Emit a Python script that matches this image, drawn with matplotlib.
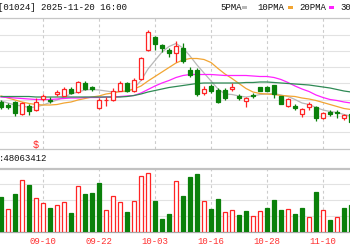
import matplotlib
matplotlib.use("Agg")
import matplotlib.pyplot as plt
from matplotlib.patches import Rectangle
import matplotlib.transforms as mtrans
import numpy as np

# ---------------- data ----------------
axis_dates = ["08-29", "09-01",
              "09-02", "09-03", "09-04", "09-05", "09-08", "09-09", "09-10", "09-11", "09-12", "09-15",
              "09-16", "09-17", "09-18", "09-19", "09-22", "09-23", "09-24", "09-25", "09-26", "09-29",
              "09-30", "10-02", "10-03", "10-06", "10-08", "10-09", "10-10", "10-13", "10-14", "10-15",
              "10-16", "10-17", "10-20", "10-21", "10-22", "10-23", "10-24", "10-27", "10-28", "10-30",
              "10-31", "11-03", "11-04", "11-05", "11-06", "11-07", "11-10", "11-11", "11-12", "11-13",
              "11-14"]
dates = axis_dates[2:]
label_dates = ["08-29", "09-10", "09-22", "10-03", "10-16", "10-28", "11-10"]

opens = [73.6, 72.9, 73.6, 71.2, 72.8, 72.0, 74.3, 74.1, 75.3, 74.9, 76.2, 75.7, 77.4, 76.5, 72.5, 74.0,
         74.0, 75.9, 77.4, 75.8, 78.2, 84.0, 86.7, 85.1, 84.1, 83.4, 84.5, 80.0, 80.0, 75.4, 76.8, 76.0,
         76.0, 76.3, 74.7, 73.8, 75.1, 76.6, 76.7, 77.0, 74.7, 72.9, 72.7, 71.3, 72.6, 72.6, 70.4, 71.6,
         71.7, 70.4, 71.2]
highs = [74.0, 73.4, 73.8, 73.6, 73.2, 74.4, 75.2, 74.6, 76.0, 76.6, 76.6, 77.9, 77.8, 76.9, 74.4, 74.6,
         76.4, 77.8, 77.6, 78.4, 82.6, 88.0, 86.9, 85.2, 84.4, 85.8, 85.4, 80.6, 80.4, 76.8, 77.3, 76.4,
         76.4, 77.4, 75.2, 74.6, 75.5, 76.7, 76.8, 77.1, 74.8, 74.5, 73.2, 72.4, 73.6, 72.8, 71.6, 72.0,
         72.1, 71.2, 71.6]
lows = [72.2, 72.2, 70.8, 71.0, 71.0, 71.8, 73.8, 73.4, 74.8, 74.8, 75.2, 75.5, 76.0, 75.8, 72.2, 72.8,
        73.8, 75.8, 75.6, 75.6, 78.0, 83.8, 84.1, 83.6, 82.6, 81.6, 81.4, 78.6, 74.8, 75.0, 75.5, 73.4,
        74.0, 75.8, 74.0, 72.7, 74.5, 75.8, 75.8, 74.4, 73.2, 72.7, 72.0, 70.6, 72.0, 69.8, 70.2, 70.8,
        70.4, 70.0, 69.2]
closes = [72.6, 72.7, 71.4, 73.4, 71.8, 73.6, 74.7, 73.9, 75.5, 76.2, 75.5, 77.6, 76.3, 76.3, 74.0, 74.1,
          75.8, 77.5, 75.9, 78.1, 82.4, 87.6, 85.3, 84.5, 83.4, 84.8, 81.8, 79.1, 75.2, 76.3, 75.8, 73.6,
          74.4, 76.5, 74.5, 74.4, 74.9, 75.9, 75.9, 75.2, 73.3, 74.2, 72.5, 72.3, 73.3, 70.4, 71.4, 71.3,
          71.4, 71.1, 69.6]

ma5 = [73.8, 73.4, 73.0, 72.8, 72.5, 72.6, 73.0, 73.5, 74.0, 74.6, 75.2, 75.6, 76.0, 76.1, 76.0, 75.8,
       75.6, 75.7, 75.7, 76.3, 77.9, 80.2, 81.9, 83.6, 84.7, 85.3, 84.4, 82.8, 81.0, 79.4, 77.8, 76.2,
       75.2, 75.1, 74.8, 74.6, 74.8, 75.1, 75.2, 75.3, 75.0, 74.7, 74.1, 73.4, 73.1, 72.5, 72.0, 71.7,
       71.5, 71.1, 70.8]
ma10 = [74.8, 74.4, 74.0, 73.6, 73.3, 73.1, 73.0, 73.0, 73.1, 73.4, 73.6, 74.0, 74.3, 74.6, 74.8, 75.2,
        75.4, 75.7, 75.8, 76.2, 76.8, 77.8, 78.7, 79.6, 80.5, 81.4, 82.0, 82.3, 82.3, 82.1, 81.5, 80.3,
        79.2, 78.3, 77.3, 76.3, 75.6, 75.3, 75.2, 75.1, 74.9, 74.8, 74.7, 74.4, 74.2, 73.9, 73.5, 73.1,
        72.7, 72.3, 72.1]
ma20 = [74.6, 74.5, 74.4, 74.3, 74.2, 74.1, 74.1, 74.1, 74.2, 74.3, 74.4, 74.4, 74.5, 74.5, 74.5, 74.6,
        74.6, 74.7, 74.8, 74.9, 75.4, 76.1, 76.8, 77.4, 77.9, 78.5, 78.9, 79.1, 79.1, 79.1, 79.1, 79.0,
        78.9, 78.9, 78.9, 78.9, 78.8, 78.7, 78.7, 78.5, 78.1, 77.5, 76.8, 76.2, 75.7, 75.0, 74.5, 74.1,
        73.9, 73.6, 73.4]
ma30 = [74.7, 74.7, 74.7, 74.7, 74.7, 74.6, 74.6, 74.6, 74.6, 74.6, 74.6, 74.6, 74.6, 74.6, 74.6, 74.6,
        74.6, 74.6, 74.7, 74.9, 75.2, 75.6, 75.9, 76.2, 76.5, 76.7, 76.9, 77.1, 77.3, 77.4, 77.4, 77.4,
        77.4, 77.4, 77.4, 77.5, 77.5, 77.6, 77.6, 77.5, 77.4, 77.3, 77.2, 77.1, 77.0, 76.8, 76.6, 76.4,
        76.1, 75.8, 75.6]

volume = [35.0, 22.7, 37.7, 51.7, 46.7, 33.7, 28.7, 23.7, 26.7, 29.7, 18.7, 45.7, 37.7, 38.7, 48.7, 21.7,
          35.7, 29.7, 19.7, 30.7, 55.7, 58.7, 30.7, 12.7, 17.7, 50.7, 35.7, 54.7, 57.7, 30.7, 22.7, 32.7,
          19.7, 21.7, 16.7, 20.7, 15.7, 20.7, 23.7, 31.7, 21.7, 22.7, 17.7, 23.7, 14.7, 39.7, 21.7, 11.7,
          14.7, 23.7, 26.7]
vol_up = [0, 1, 0, 1, 0, 1, 1, 0, 1, 1, 0, 1, 0, 0, 0, 1, 1, 1, 0, 1, 1, 1, 0, 0, 0, 1, 0, 0, 0, 1,
          0, 0, 1, 1, 0, 0, 1, 1, 0, 0, 0, 1, 0, 0, 1, 0, 1, 0, 1, 0, 0]

dividend_date = "09-09"
title_text = "[01024] 2025-11-20 16:00"
vol_text = ":48063412"
ma_labels = ["5PMA", "10PMA", "20PMA", "30PMA"]

# ---------------- style / layout ----------------
W, H = 350, 250
FONT = "Liberation Mono"
UP = "#ff2424"
DN = "#0a800a"
MA_COLORS = ["#b8b8b8", "#f2a533", "#ff22ff", "#2f8a55"]

fig = plt.figure(figsize=(W / 100, H / 100), dpi=100)
fig.patch.set_facecolor("white")


def fx(px):
    return px / W


def fy(py):
    return 1 - py / H


PT, PB = 18.3, 148.7     # price panel top / bottom (px)
VT, VB = 168.5, 231.7    # volume panel top / bottom (px)

n = len(dates)
x = np.arange(n)
xlim = (-1 / 7, 349 / 7)

axp = fig.add_axes([0, fy(PB), 1, (PB - PT) / H])
axv = fig.add_axes([0, fy(VB), 1, (VB - VT) / H])

axp.set_xlim(*xlim)
axp.set_ylim(64.26, 90.34)
axv.set_xlim(*xlim)
axv.set_ylim(0, 63.2)

label_pos = [axis_dates.index(d) - 2 for d in label_dates]

for ax in (axp, axv):
    ax.set_xticks([])
    ax.set_yticks([])
    ax.spines["left"].set_visible(False)
    ax.spines["right"].set_visible(False)
    y0, y1 = ax.get_ylim()
    nd = 8 if ax is axp else 4
    for v in np.linspace(y0, y1, nd + 1)[1:-1]:
        ax.axhline(v, color="#e2e2e2", lw=0.8, zorder=0)
    for p in label_pos:
        ax.axvline(p, color="#cccccc", lw=0.8, ls=(0, (2.5, 2.5)), zorder=0)

axp.spines["top"].set_color("#c6c6c6")
axp.spines["top"].set_linewidth(0.9)
axp.spines["bottom"].set_color("#c6c6c6")
axp.spines["bottom"].set_linewidth(0.9)
axv.spines["top"].set_color("#c2c2c2")
axv.spines["top"].set_linewidth(1.6)
axv.spines["bottom"].set_color("#a8a8a8")
axv.spines["bottom"].set_linewidth(0.9)

# moving averages
for ma, col in zip([ma5, ma10, ma20, ma30], MA_COLORS):
    axp.plot(x, ma, color=col, lw=0.9, zorder=2)

# candles
bw = 0.7
for i in range(n):
    o, h, l, c = opens[i], highs[i], lows[i], closes[i]
    up = c >= o
    col = UP if up else DN
    top, bot = max(o, c), min(o, c)
    axp.vlines(i, top, h, color=col, lw=0.9, zorder=3)
    axp.vlines(i, l, bot, color=col, lw=0.9, zorder=3)
    axp.add_patch(Rectangle((i - bw / 2, bot), bw, max(top - bot, 0.05),
                            facecolor="white" if up else col, edgecolor=col,
                            lw=0.9, zorder=4))

# dividend marker
div_i = dates.index(dividend_date)
axp.text(div_i, 0.032, "$", transform=mtrans.blended_transform_factory(axp.transData, axp.transAxes),
         ha="center", va="center", color=UP, fontsize=7.5, family=FONT)

# volume bars
axv.bar(x, volume, width=0.64,
        color=["white" if u else DN for u in vol_up],
        edgecolor=[UP if u else DN for u in vol_up], lw=0.9, zorder=3)

# date labels
tr = mtrans.blended_transform_factory(axv.transData, axv.transAxes)
for p, d in zip(label_pos, label_dates):
    axv.text(p, (VB - 241) / (VB - VT), d, transform=tr, ha="center", va="center",
             color="#ff3030", fontsize=6.5, family=FONT, clip_on=False)

# header texts
fig.text(fx(-2.3), fy(7.5), title_text, ha="left", va="center", fontsize=6.5, family=FONT, color="#111111")
fig.text(fx(-1.5), fy(158.5), vol_text, ha="left", va="center", fontsize=6.5, family=FONT, color="#111111")

leg_x = [220, 257, 299, 340]
mark_x = [242, 288, 329, 370]
for lab, lx, mx, col in zip(ma_labels, leg_x, mark_x, MA_COLORS):
    fig.text(fx(lx), fy(7.5), lab, ha="left", va="center", fontsize=6.5, family=FONT, color="#111111")
    fig.patches.append(Rectangle((fx(mx), fy(8.8)), 5 / W, 3 / H, transform=fig.transFigure,
                                 facecolor=col, edgecolor="none"))

fig.savefig("out.png", dpi=100)
